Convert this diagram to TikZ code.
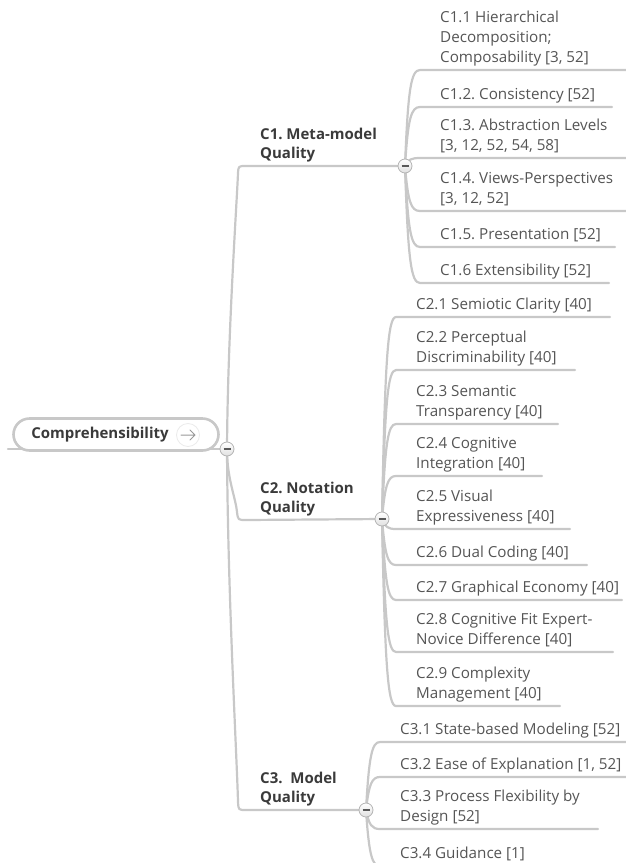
\documentclass[tikz,border=0pt]{standalone}
\usepackage{fontspec}
\setmainfont{Open Sans}
\frenchspacing
\usetikzlibrary{calc}
\definecolor{linegray}{HTML}{C8C8C8}
\definecolor{leafgray}{HTML}{555555}
\definecolor{headgray}{HTML}{3A3A3A}
\definecolor{knobgray}{HTML}{B4B4B4}
\pgfdeclarelayer{bg}
\pgfsetlayers{bg,main}

\tikzset{
  branch/.style={draw=linegray, line width=2.2pt, line cap=round, line join=round},
  leaftext/.style={anchor=south west, inner sep=0pt, align=left, text=leafgray,
    font=\fontsize{15.2}{20}\selectfont, execute at end node=\strut},
  headtext/.style={leaftext, text=headgray, font=\fontsize{15}{19.5}\selectfont\bfseries},
  knob/.style={circle, minimum size=14pt, inner sep=0pt, draw=knobgray, line width=0.8pt,
    top color=white, bottom color=black!12,
    path picture={\draw[black!65, line width=1.4pt]
      ([xshift=-3.5pt]path picture bounding box.center) -- ([xshift=3.5pt]path picture bounding box.center);}},
  capsule/.style={rectangle, rounded corners=16pt, minimum width=205pt, minimum height=32pt,
    draw=linegray, line width=2.6pt, fill=white},
  roottext/.style={inner sep=0pt, text=headgray, font=\fontsize{15}{18}\selectfont\bfseries},
  gobutton/.style={circle, minimum size=23pt, inner sep=0pt, draw=black!8, line width=0.8pt, fill=white},
}

% leaf: parent knob, name, x where the curve meets the underline, underline y, underline end x, text
\newcommand\leaf[6]{%
  \coordinate (#2a) at (#3,#4);
  \coordinate (#2b) at (#5,#4);
  \begin{pgfonlayer}{bg}
    \draw[branch] let \p1=(#1), \p2=(#2a) in
      (\p1) .. controls ({\x1+3pt},{\y2+0.2*(\y1-\y2)}) and ({\x1+6pt},\y2) .. (\p2) -- (#2b);
  \end{pgfonlayer}
  \node[leaftext] (#2) at ($(#2a)+(20,-1)$) {#6};
}

\begin{document}
\begin{tikzpicture}[x=1pt, y=-1pt]
\useasboundingbox (0,0) rectangle (625,863);

% knobs of the root and the three main branches
\node[knob] (rk) at (227,449) {};
\node[knob] (k1) at (405,166) {};
\node[knob] (k2) at (382,519) {};
\node[knob] (k3) at (366,810) {};

% root topic and its three branches
\coordinate (rs) at (8,449);
\coordinate (j1) at (246,166);
\coordinate (j2) at (246,520);
\coordinate (j3) at (246,810);
\begin{pgfonlayer}{bg}
  \draw[branch] (rs) -- (rk);
  \draw[branch] (rk) .. controls (228,330) and (237,200) .. (238,173)
    .. controls (238.5,166) .. (j1) -- (k1);
  \draw[branch] (rk) .. controls (228,480) and (236,500) .. (237,512)
    .. controls (238,520) .. (j2) -- (k2);
  \draw[branch] (rk) .. controls (228,600) and (237,760) .. (238,802)
    .. controls (238.5,810) .. (j3) -- (k3);
\end{pgfonlayer}
\node[capsule] (root) at (116,434.5) {};
\node[roottext] (rt) at (100,435) {Comprehensibility};
\node[gobutton] (go) at (188,435) {};
\draw[black!40, line width=1pt, line cap=round, line join=round]
  ([xshift=-7pt]go.center) -- ([xshift=7pt]go.center)
  ([shift={(2,-5)}]go.center) -- ([xshift=7pt]go.center) -- ([shift={(2,5)}]go.center);

% main branch labels
\node[headtext] (h1) at (260,165) {C1. Meta-model\\Quality};
\node[headtext] (h2) at (260,519) {C2. Notation\\Quality};
\node[headtext] (h3) at (260,809) {C3.~ Model\\Quality};

% C1 leaves
\leaf{k1}{l11}{420}{70}{630}{C1.1 Hierarchical\\Decomposition;\\Composability [3, 52]}
\leaf{k1}{l12}{420}{107}{612}{C1.2. Consistency [52]}
\leaf{k1}{l13}{420}{158}{630}{C1.3. Abstraction Levels\\{}[3, 12, 52, 54, 58]}
\leaf{k1}{l14}{420}{211}{630}{C1.4. Views-Perspectives\\{}[3, 12, 52]}
\leaf{k1}{l15}{420}{247}{615}{C1.5. Presentation [52]}
\leaf{k1}{l16}{420}{283}{609}{C1.6 Extensibility [52]}

% C2 leaves
\leaf{k2}{l21}{396}{317}{610}{C2.1 Semiotic Clarity [40]}
\leaf{k2}{l22}{396}{370}{575}{C2.2 Perceptual\\Discriminability [40]}
\leaf{k2}{l23}{396}{424}{558}{C2.3 Semantic\\Transparency [40]}
\leaf{k2}{l24}{396}{476}{542}{C2.4 Cognitive\\Integration [40]}
\leaf{k2}{l25}{396}{529}{570}{C2.5 Visual\\Expressiveness [40]}
\leaf{k2}{l26}{396}{565}{587}{C2.6 Dual Coding [40]}
\leaf{k2}{l27}{396}{600}{622}{C2.7 Graphical Economy [40]}
\leaf{k2}{l28}{396}{652}{613}{C2.8 Cognitive Fit Expert-\\Novice Difference [40]}
\leaf{k2}{l29}{396}{706}{560}{C2.9 Complexity\\Management [40]}

% C3 leaves
\leaf{k3}{l31}{380}{742}{630}{C3.1 State-based Modeling [52]}
\leaf{k3}{l32}{380}{777}{630}{C3.2 Ease of Explanation [1, 52]}
\leaf{k3}{l33}{380}{829}{598}{C3.3 Process Flexibility by\\Design [52]}
\leaf{k3}{l34}{380}{866}{560}{C3.4 Guidance [1]}
\end{tikzpicture}
\end{document}
